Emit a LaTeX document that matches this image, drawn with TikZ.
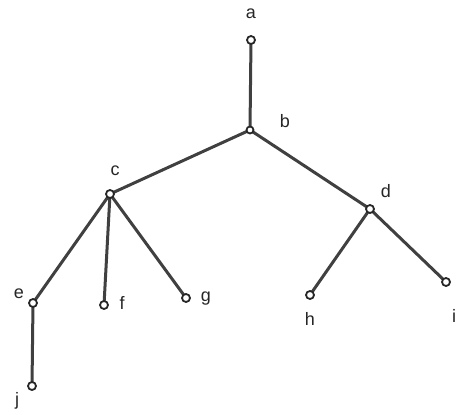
\documentclass[tikz,border=0pt]{standalone}
\usepackage{fontspec}
\setmainfont{Liberation Sans}
\begin{document}
\begin{tikzpicture}[x=1pt,y=-1pt,
  vtx/.style={circle,draw=black!85,line width=1.8pt,fill=white,inner sep=0pt,minimum size=8pt},
  edge/.style={draw=black!75,line width=3pt},
  lab/.style={font=\fontsize{18}{18}\selectfont,text=black!85,inner sep=0pt}]
\useasboundingbox (0,0) rectangle (459,415);
\coordinate (pa) at (251,40);
\coordinate (pb) at (250,130);
\coordinate (pc) at (110,194);
\coordinate (pd) at (370,209);
\coordinate (pe) at (33,303);
\coordinate (pf) at (104,305);
\coordinate (pg) at (186,298);
\coordinate (ph) at (310,295);
\coordinate (pi) at (446,282);
\coordinate (pj) at (32,386);
\draw[edge] (pa) -- (pb);
\draw[edge] (pb) -- (pc);
\draw[edge] (pb) -- (pd);
\draw[edge] (pc) -- (pe);
\draw[edge] (pc) -- (pf);
\draw[edge] (pc) -- (pg);
\draw[edge] (pd) -- (ph);
\draw[edge] (pd) -- (pi);
\draw[edge] (pe) -- (pj);
\node[vtx] (a) at (pa) {};
\node[vtx,minimum size=7pt] (b) at (pb) {};
\node[vtx] (c) at (pc) {};
\node[vtx] (d) at (pd) {};
\node[vtx] (e) at (pe) {};
\node[vtx] (f) at (pf) {};
\node[vtx] (g) at (pg) {};
\node[vtx] (h) at (ph) {};
\node[vtx] (i) at (pi) {};
\node[vtx] (j) at (pj) {};
\node[lab] (la) at (251,14) {a};
\node[lab] (lb) at (285,121) {b};
\node[lab] (lc) at (115,171) {c};
\node[lab] (ld) at (386,191) {d};
\node[lab] (le) at (19,294) {e};
\node[lab] (lf) at (122,303) {f};
\node[lab] (lg) at (206,299) {g};
\node[lab] (lh) at (310,319) {h};
\node[lab] (li) at (454,316) {i};
\node[lab] (lj) at (17,401) {j};
\end{tikzpicture}
\end{document}
